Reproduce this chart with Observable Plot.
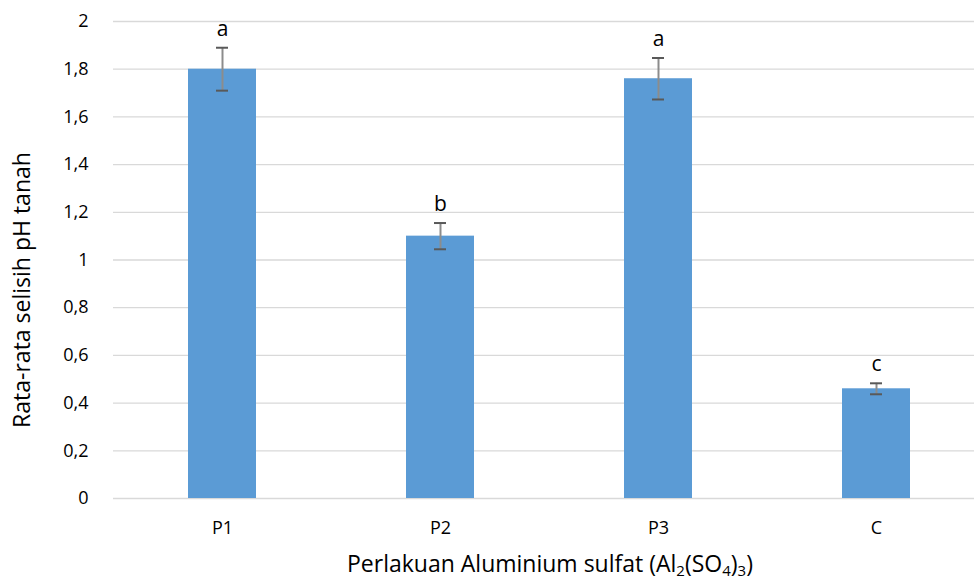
<!DOCTYPE html>
<html><head><meta charset="utf-8">
<script src="https://cdn.jsdelivr.net/npm/d3@7"></script>
<script src="https://cdn.jsdelivr.net/npm/@observablehq/plot@0.6"></script>
<style>body{margin:0;background:#fff;overflow:hidden}</style>
</head><body><div id="chart"></div>
<script>
const categories = ["P1", "P2", "P3", "C"];
const means = [1.80, 1.10, 1.76, 0.46];
const errors = [0.09, 0.055, 0.087, 0.023];
const letters = ["a", "b", "a", "c"];
const yTicks = [0, 0.2, 0.4, 0.6, 0.8, 1, 1.2, 1.4, 1.6, 1.8, 2];
const yLabel = "Rata-rata selisih pH tanah";
const xLabelParts = [["Perlakuan Aluminium sulfat (Al", 0], ["2", 1], ["(SO", 0], ["4", 1], [")", 0], ["3", 1], [")", 0]];

const data = categories.map((c, i) => ({cat: c, mean: means[i], lo: means[i] - errors[i], hi: means[i] + errors[i], letter: letters[i]}));
const font = "'Open Sans', sans-serif";

const plot = Plot.plot({
  width: 974, height: 582,
  marginLeft: 113, marginRight: 0, marginTop: 21, marginBottom: 84,
  style: {fontFamily: font, fontSize: "18px", color: "#000", background: "#fff"},
  x: {type: "band", domain: categories, range: [113, 985], paddingInner: 0.688, paddingOuter: 0.344, label: null},
  y: {domain: [0, 2], label: null},
  marks: [
    Plot.ruleY(yTicks, {stroke: "#d9d9d9", strokeWidth: 1.3}),
    Plot.barY(data, {x: "cat", y: "mean", fill: "#5b9bd5"}),
    Plot.ruleX(data, {x: "cat", y1: "lo", y2: "hi", stroke: "#8c8c8c", strokeWidth: 2}),
    Plot.tickY(data, {x: "cat", y: "lo", stroke: "#595959", strokeWidth: 2, insetLeft: 28, insetRight: 28}),
    Plot.tickY(data, {x: "cat", y: "hi", stroke: "#595959", strokeWidth: 2, insetLeft: 28, insetRight: 28}),
    Plot.text(data, {x: "cat", y: "hi", text: "letter", dy: -12, lineAnchor: "bottom", fontSize: 21, fill: "#000"}),
    Plot.axisX({tickSize: 0, tickPadding: 23, fontSize: 18, label: null}),
    Plot.axisY({ticks: yTicks, tickSize: 0, tickPadding: 25, fontSize: 18, label: null,
      tickFormat: d => String(d).replace(".", ",")})
  ]
});

const svg = d3.select(plot);
svg.append("text")
  .attr("transform", "translate(21,290) rotate(-90)")
  .attr("text-anchor", "middle")
  .attr("dominant-baseline", "central")
  .attr("font-size", 23)
  .attr("fill", "#000")
  .text(yLabel);

const xt = svg.append("text")
  .attr("x", 550).attr("y", 572)
  .attr("text-anchor", "middle")
  .attr("font-size", 23)
  .attr("fill", "#000");
let shifted = false;
for (const [s, sub] of xLabelParts) {
  const ts = xt.append("tspan").text(s);
  if (sub && !shifted) { ts.attr("dy", 4).attr("font-size", 15); shifted = true; }
  else if (sub && shifted) { ts.attr("font-size", 15); }
  else if (!sub && shifted) { ts.attr("dy", -4); shifted = false; }
}

document.getElementById("chart").appendChild(plot);
</script>
</body></html>
